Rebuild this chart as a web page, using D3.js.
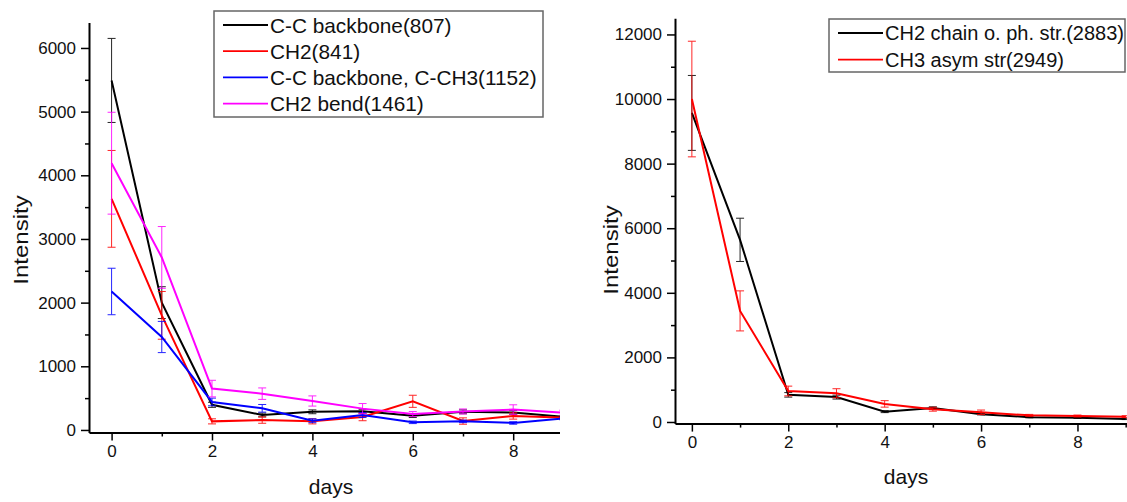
<!DOCTYPE html>
<html><head><meta charset="utf-8">
<script src="https://cdn.jsdelivr.net/npm/d3@7"></script>
<style>
html,body{margin:0;padding:0;background:#fff;}
svg{display:block;font-family:"Liberation Sans",Arial,sans-serif;}
</style></head>
<body>
<svg id="chart" width="1127" height="502"></svg>
<script>
// ---- data ----
const days = [0,1,2,3,4,5,6,7,8,9];

const leftNames = ["C-C backbone(807)","CH2(841)","C-C backbone, C-CH3(1152)","CH2 bend(1461)"];
const leftColors = ["#000000","#ff0000","#0000ff","#ff00ff"];
const ccBackbone807   = [5490,2000,395,235,285,295,225,285,275,205];
const ch2_841         = [3630,1800,135,155,135,205,450,140,220,195];
const ccBackboneCH3   = [2175,1460,440,340,145,235,120,135,110,180];
const ch2Bend1461     = [4190,2710,650,570,455,335,250,290,320,270];
const ccBackbone807Err= [660,250,40,30,30,30,30,30,30,20];
const ch2_841Err      = [760,375,40,50,40,60,95,50,50,30];
const ccBackboneCH3Err= [365,245,60,60,30,40,20,20,20,20];
const ch2Bend1461Err  = [800,485,130,90,80,80,40,40,75,40];

const rightNames = ["CH2 chain o. ph. str.(2883)","CH3 asym str(2949)"];
const rightColors = ["#000000","#ff0000"];
const ch2Chain2883    = [9570,5640,840,770,320,430,240,150,130,95];
const ch3Asym2949     = [10000,3440,960,890,560,395,300,205,185,165];
const ch2Chain2883Err = [1160,670,70,60,30,40,20,20,20,20];
const ch3Asym2949Err  = [1790,620,150,140,100,60,70,30,30,30];

const leftYTicks = [0,1000,2000,3000,4000,5000,6000];
const rightYTicks = [0,2000,4000,6000,8000,10000,12000];
const xMajorTicks = [0,2,4,6,8];

const leftSeries = [
  {name:leftNames[0], color:leftColors[0], v:ccBackbone807, e:ccBackbone807Err},
  {name:leftNames[1], color:leftColors[1], v:ch2_841, e:ch2_841Err},
  {name:leftNames[2], color:leftColors[2], v:ccBackboneCH3, e:ccBackboneCH3Err},
  {name:leftNames[3], color:leftColors[3], v:ch2Bend1461, e:ch2Bend1461Err}
];
const rightSeries = [
  {name:rightNames[0], color:rightColors[0], v:ch2Chain2883, e:ch2Chain2883Err},
  {name:rightNames[1], color:rightColors[1], v:ch3Asym2949, e:ch3Asym2949Err}
];

const svg = d3.select("#chart");
const defs = svg.append("defs");

function panel(cfg){
  const g = svg.append("g");
  const x = d3.scaleLinear().domain(cfg.xDomain).range(cfg.xRange);
  const y = d3.scaleLinear().domain(cfg.yDomain).range(cfg.yRange);
  const clipId = cfg.id + "clip";
  defs.append("clipPath").attr("id", clipId).append("rect")
    .attr("x", 0).attr("y", 0).attr("width", cfg.clipRight).attr("height", 502);
  const c = g.append("g").attr("clip-path", `url(#${clipId})`);

  // data
  const line = d3.line().x((d,i)=>x(days[i])).y(d=>y(d));
  cfg.series.forEach(s=>{
    const eb = c.append("g").attr("stroke", s.color).attr("stroke-width", 1).attr("opacity", 0.85);
    s.v.forEach((v,i)=>{
      const xx = x(days[i]), y1 = y(v + s.e[i]), y2 = y(v - s.e[i]);
      eb.append("line").attr("x1",xx).attr("x2",xx).attr("y1",y1).attr("y2",y2);
      eb.append("line").attr("x1",xx-4).attr("x2",xx+4).attr("y1",y1).attr("y2",y1);
      eb.append("line").attr("x1",xx-4).attr("x2",xx+4).attr("y1",y2).attr("y2",y2);
    });
    c.append("path").datum(s.v).attr("d", line).attr("fill","none")
      .attr("stroke", s.color).attr("stroke-width", 2);
  });

  // x axis
  const xAxisG = c.append("g").attr("transform", `translate(0,${cfg.yRange[0]})`);
  xAxisG.call(d3.axisBottom(x).tickValues(xMajorTicks).tickFormat(d3.format("d")).tickSize(8).tickPadding(4).tickSizeOuter(0));
  c.append("g").attr("transform", `translate(0,${cfg.yRange[0]})`)
    .call(d3.axisBottom(x).tickValues(days.filter(d=>d%2===1)).tickFormat("").tickSize(4).tickSizeOuter(0))
    .call(a=>a.select(".domain").remove());
  // y axis
  const yAxisG = g.append("g").attr("transform", `translate(${cfg.xRange[0]},0)`);
  yAxisG.call(d3.axisLeft(y).tickValues(cfg.yTicks).tickFormat(d3.format("d")).tickSize(8).tickPadding(5).tickSizeOuter(0));
  g.append("g").attr("transform", `translate(${cfg.xRange[0]},0)`)
    .call(d3.axisLeft(y).tickValues(cfg.yMinor).tickFormat("").tickSize(4).tickSizeOuter(0))
    .call(a=>a.select(".domain").remove());

  svg.selectAll(".domain").attr("stroke-width", 2);
  [xAxisG, yAxisG].forEach(a=>{
    a.selectAll("text").attr("font-size", 17).attr("fill","#111").attr("font-family","Liberation Sans, Arial, sans-serif");
  });
  g.selectAll(".tick line").attr("stroke-width", 1.5);
  c.selectAll(".tick line").attr("stroke-width", 1.5);

  // axis titles
  g.append("text").attr("x", cfg.xTitle[0]).attr("y", cfg.xTitle[1]).attr("text-anchor","middle")
    .attr("font-size", 21).attr("fill","#111").text("days");
  g.append("text").attr("transform", `translate(${cfg.yTitle[0]},${cfg.yTitle[1]}) rotate(-90) scale(1.2,1)`)
    .attr("text-anchor","middle").attr("dominant-baseline","central")
    .attr("font-size", 20).attr("fill","#111").text("Intensity");

  // legend
  const L = cfg.legend;
  const lg = g.append("g");
  lg.append("rect").attr("x", L.x).attr("y", L.y).attr("width", L.w).attr("height", L.h)
    .attr("fill","#fff").attr("stroke","#666").attr("stroke-width",1.5);
  cfg.series.forEach((s,i)=>{
    const cy = L.firstRow + i*L.rowH;
    lg.append("line").attr("x1", L.x+9).attr("x2", L.x+54).attr("y1", cy).attr("y2", cy)
      .attr("stroke", s.color).attr("stroke-width", 1.8);
    lg.append("text").attr("x", L.x+56).attr("y", cy).attr("dominant-baseline","central")
      .attr("font-size", L.fs).attr("fill","#111").text(s.name);
  });
}

panel({
  id:"left", series:leftSeries,
  xDomain:[-0.45, 9.5], xRange:[89, 89 + 9.95*50.2],
  yDomain:[-40, 6400], yRange:[432.5, 22.5],
  yTicks:leftYTicks, yMinor:d3.range(500, 6400, 1000),
  clipRight:560,
  xTitle:[331, 494], yTitle:[21, 240],
  legend:{x:214, y:11, w:329, h:106, firstRow:25, rowH:26.2, fs:20.8}
});
panel({
  id:"right", series:rightSeries,
  xDomain:[-0.35, 9.5], xRange:[675, 675 + 9.85*48.2],
  yDomain:[-50, 12500], yRange:[423.6, 18.3],
  yTicks:rightYTicks, yMinor:d3.range(1000, 12500, 2000),
  clipRight:1127,
  xTitle:[906, 484], yTitle:[611, 250],
  legend:{x:829, y:19, w:296, h:53, firstRow:33, rowH:26.7, fs:20}
});
</script>
</body></html>
